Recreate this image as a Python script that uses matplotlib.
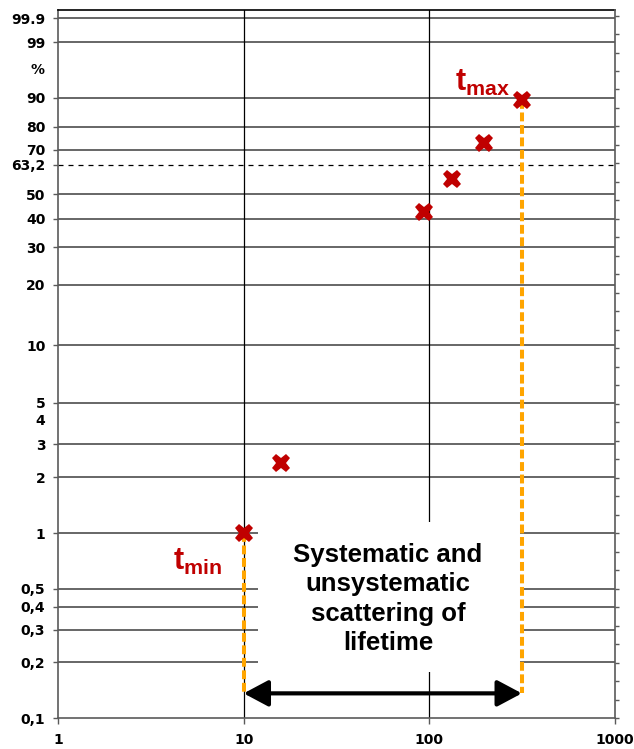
import numpy as np
import matplotlib
matplotlib.use("Agg")
import matplotlib.pyplot as plt
from matplotlib.patches import Rectangle, FancyArrowPatch
import matplotlib.transforms as mtransforms

plt.rcParams['mathtext.fontset'] = 'custom'
plt.rcParams['mathtext.rm'] = 'Liberation Sans:bold'
plt.rcParams['mathtext.it'] = 'Liberation Sans:bold'
plt.rcParams['mathtext.bf'] = 'Liberation Sans:bold'

# ---- data ----
lifetimes = [10, 15.9, 93.5, 132, 197, 315]          # hours (x)
failure_pct = [1.0, 2.4, 42.6, 56.8, 73.2, 89.5]     # cumulative failures in %
t_min = 10
t_max = 315
arrow_level = 0.136                                   # % level of the span arrow

grid_vals = [0.2, 0.3, 0.4, 0.5, 1, 2, 3, 5, 10, 20, 30, 40, 50, 70, 80, 90, 99, 99.8]
tick_vals = [0.1, 0.2, 0.3, 0.4, 0.5, 1, 2, 3, 5, 10, 20, 30, 40, 50, 63.2, 70, 80, 90, 99, 99.8]
tick_labels = ['0,1', '0,2', '0,3', '0,4', '0,5', '1', '2', '3', '5', '10', '20', '30', '40',
               '50', '63,2', '70', '80', '90', '99', '99.9']
x_ticks = [1, 10, 100, 1000]
x_labels = ['1', '10', '100', '1000']
char_line = 63.2
box_text = "Systematic and\nunsystematic\nscattering of\nlifetime"

RED = '#C00000'
ORANGE = '#FFA500'
GRID = '#5a5a5a'
TICKFS = 10


def fwd(p):
    p = np.clip(np.asarray(p, dtype=float), 1e-9, 100 - 1e-9)
    return np.log(-np.log(1 - p / 100.0))


def inv(w):
    return 100.0 * (1 - np.exp(-np.exp(np.asarray(w, dtype=float))))


fig = plt.figure(figsize=(6.34, 7.49), dpi=100)
ax = fig.add_axes([58 / 634, 31 / 749, 557 / 634, 708 / 749])
ax.set_xscale('log')
ax.set_yscale('function', functions=(fwd, inv))
ax.set_xlim(1, 1000)
ax.set_ylim(0.1, 99.9)

# grid lines
for g in grid_vals:
    ax.axhline(g, color=GRID, lw=1.3, zorder=1)
ax.axhline(char_line, color='black', lw=0.9, ls=(0, (4, 4)), zorder=1)
for xv in [10, 100]:
    ax.axvline(xv, color='black', lw=0.9, zorder=1)

# white text box
ax.add_patch(Rectangle((0.359, 0.065), 0.4705, 0.212, transform=ax.transAxes,
                       facecolor='white', edgecolor='none', zorder=2))
ax.text(0.5925, 0.168, box_text, transform=ax.transAxes, ha='center', va='center',
        fontsize=18.5, fontweight='bold', family='Liberation Sans', linespacing=1.28,
        zorder=3)

# orange dashed verticals
ax.plot([t_min, t_min], [failure_pct[0], arrow_level], color=ORANGE, lw=2.9,
        ls=(0, (2.2, 0.9)), zorder=4, solid_capstyle='butt', dash_capstyle='butt')
ax.plot([t_max, t_max], [failure_pct[-1], arrow_level], color=ORANGE, lw=2.9,
        ls=(0, (2.2, 0.9)), zorder=4, solid_capstyle='butt', dash_capstyle='butt')

# arrow
arr = FancyArrowPatch((t_min, arrow_level), (t_max, arrow_level),
                      arrowstyle='<|-|>,head_length=0.75,head_width=0.4',
                      mutation_scale=20, color='black', lw=3, shrinkA=0, shrinkB=0,
                      zorder=5)
ax.add_patch(arr)

# data markers
ax.plot(lifetimes, failure_pct, ls='none', marker='X', markersize=13,
        color=RED, markeredgewidth=0, zorder=6)

# t_min / t_max labels
ax.annotate(r'$\mathrm{t}_{\mathrm{min}}$', xy=(lifetimes[0], failure_pct[0]),
            xytext=(-22, -14), textcoords='offset pixels', ha='right', va='top',
            fontsize=22, color=RED, zorder=6)
ax.annotate(r'$\mathrm{t}_{\mathrm{max}}$', xy=(lifetimes[-1], failure_pct[-1]),
            xytext=(-12, 2), textcoords='offset pixels', ha='right', va='bottom',
            fontsize=22, color=RED, zorder=6)

# axis ticks / labels
ax.set_yticks(tick_vals)
ax.set_yticklabels(tick_labels)
ax.yaxis.set_minor_locator(matplotlib.ticker.NullLocator())
ax.set_xticks(x_ticks)
ax.set_xticklabels(x_labels)
ax.xaxis.set_minor_locator(matplotlib.ticker.NullLocator())
for lab in ax.get_yticklabels() + ax.get_xticklabels():
    lab.set_fontweight('bold')
    lab.set_family('DejaVu Sans')
    lab.set_fontsize(TICKFS)
ax.tick_params(axis='y', length=3.6, width=1, color=GRID, pad=5.5)
ax.tick_params(axis='x', length=4, width=1, color=GRID, pad=7)

trans = mtransforms.blended_transform_factory(ax.transAxes, ax.transData)
ax.text(-0.0233, 4, '4', transform=trans, ha='right', va='center', fontsize=TICKFS,
        fontweight='bold', family='DejaVu Sans')
ax.text(-0.036, 96.23, '%', transform=trans, ha='center', va='center', fontsize=TICKFS,
        fontweight='bold', family='DejaVu Sans')

for s in ['left', 'bottom']:
    ax.spines[s].set_color(GRID)
    ax.spines[s].set_linewidth(1.2)
ax.spines['top'].set_color('black')
ax.spines['top'].set_linewidth(1.2)
ax.spines['right'].set_visible(False)

# right axis with small ticks
ax2 = ax.twinx()
ax2.set_ylim(0, 38.3)
ax2.set_yticks(np.arange(0, 39))
ax2.set_yticklabels([])
ax2.tick_params(axis='y', length=3, width=1, color=GRID)
for s in ['left', 'top', 'bottom']:
    ax2.spines[s].set_visible(False)
ax2.spines['right'].set_color(GRID)
ax2.spines['right'].set_linewidth(1.2)

fig.savefig('out.png', dpi=100)
